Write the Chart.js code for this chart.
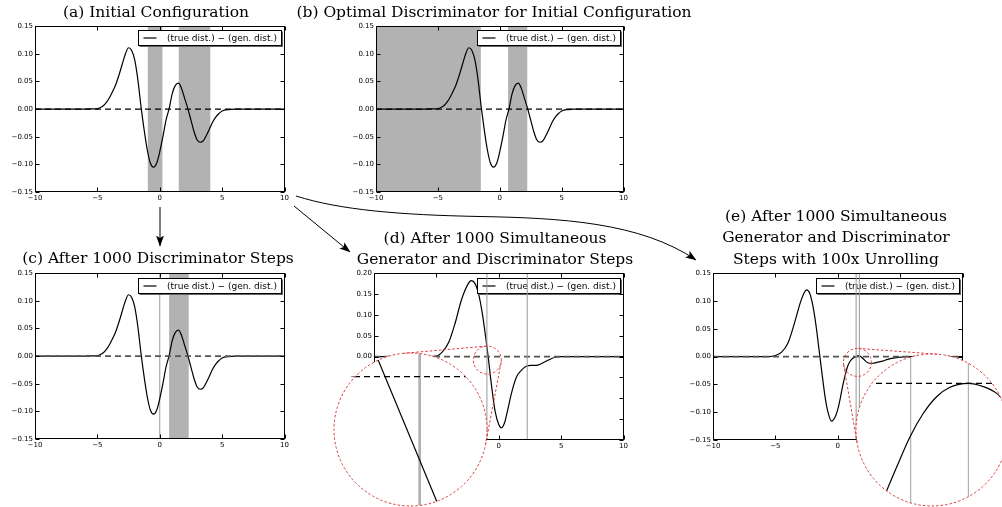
<!DOCTYPE html>
<html>
<head>
<meta charset="utf-8">
<title>Unrolled GAN toy example</title>
<script src="https://cdn.jsdelivr.net/npm/chart.js@4.4.1/dist/chart.umd.min.js"></script>
<style>
  html, body { margin: 0; padding: 0; background: #fff; }
  #fig { position: relative; width: 1002px; height: 507px; overflow: hidden; background: #fff; }
  #fig canvas { position: absolute; }
  #fig canvas.inset { background: #fff; clip-path: circle(50% at 50% 50%); }
  #over { position: absolute; left: 0; top: 0; }
  .ttl { font-family: "DejaVu Serif"; font-size: 15.5px; fill: #000; text-anchor: middle; }
  .ring { fill: none; stroke: #dd3b3b; stroke-width: 1; stroke-dasharray: 2.5 2; }
</style>
</head>
<body>
<div id="fig">
  <canvas id="pa"></canvas>
  <canvas id="pb"></canvas>
  <canvas id="pc"></canvas>
  <canvas id="pd"></canvas>
  <canvas id="pe"></canvas>
  <canvas id="id" class="inset"></canvas>
  <canvas id="ie" class="inset"></canvas>
  <svg id="over" width="1002" height="507">
    <defs>
      <marker id="head" markerWidth="11" markerHeight="8" refX="10.5" refY="4" orient="auto" markerUnits="userSpaceOnUse">
        <path d="M0,0 L11,4 L0,8 L2.5,4 Z" fill="#000"/>
      </marker>
    </defs>
    <text class="ttl" x="156" y="17">(a) Initial Configuration</text>
    <text class="ttl" x="494" y="17">(b) Optimal Discriminator for Initial Configuration</text>
    <text class="ttl" x="158" y="263">(c) After 1000 Discriminator Steps</text>
    <text class="ttl" x="495" y="243">(d) After 1000 Simultaneous</text>
    <text class="ttl" x="495" y="263.5">Generator and Discriminator Steps</text>
    <text class="ttl" x="836" y="221">(e) After 1000 Simultaneous</text>
    <text class="ttl" x="836" y="242">Generator and Discriminator</text>
    <text class="ttl" x="836" y="263.5">Steps with 100x Unrolling</text>
    <path d="M160,207 L160,246" stroke="#000" stroke-width="1" fill="none" marker-end="url(#head)"/>
    <path d="M294,206 L350,252" stroke="#000" stroke-width="1" fill="none" marker-end="url(#head)"/>
    <path d="M296,196 C340,210 400,215 480,216.5 S640,222 696,260" stroke="#000" stroke-width="1" fill="none" marker-end="url(#head)"/>
    <g id="rings"></g>
  </svg>
</div>
<script>
// difference curve shared by (a), (b), (c)
var curveX = [-10, -6, -5.5, -5, -4.75, -4.5, -4.25, -4, -3.75, -3.5, -3.25, -3, -2.75, -2.5, -2.25, -2, -1.75, -1.5, -1.25, -1, -0.75, -0.5, -0.25, 0, 0.25, 0.5, 0.75, 1, 1.25, 1.5, 1.75, 2, 2.25, 2.5, 2.75, 3, 3.25, 3.5, 3.75, 4, 4.25, 4.5, 4.75, 5, 5.5, 6, 10];
var curveY = [0, 0, 0.0005, 0.001, 0.003, 0.0066, 0.013, 0.022, 0.033, 0.046, 0.063, 0.082, 0.100, 0.111, 0.106, 0.088, 0.052, 0.004, -0.038, -0.074, -0.098, -0.105, -0.098, -0.077, -0.050, -0.020, 0.001, 0.028, 0.043, 0.047, 0.037, 0.019, 0.001, -0.020, -0.041, -0.056, -0.060, -0.057, -0.047, -0.035, -0.023, -0.014, -0.008, -0.0035, -0.0008, 0, 0];

// (d) simultaneous steps
var dX = [-10, -5.5, -5, -4.5, -4, -3.5, -3, -2.5, -2.2, -1.9, -1.6, -1.3, -1, -0.85, -0.6, -0.3, 0, 0.2, 0.45, 0.7, 1, 1.4, 1.8, 2.2, 2.6, 3, 3.4, 3.8, 4.2, 4.6, 5, 10];
var dY = [0, 0, 0.001, 0.012, 0.035, 0.08, 0.135, 0.172, 0.182, 0.175, 0.148, 0.10, 0.035, 0, -0.065, -0.13, -0.163, -0.171, -0.16, -0.13, -0.09, -0.05, -0.033, -0.023, -0.021, -0.021, -0.017, -0.011, -0.005, -0.001, 0, 0];

// (e) with unrolling
var eX = [-10, -5.5, -5, -4.5, -4, -3.5, -3, -2.75, -2.5, -2.25, -2, -1.75, -1.5, -1.25, -1, -0.75, -0.5, -0.2, 0, 0.2, 0.4, 0.6, 0.8, 1, 1.2, 1.45, 1.7, 2, 2.4, 2.8, 3.2, 3.6, 4, 4.7, 5.5, 10];
var eY = [0, 0, 0.002, 0.008, 0.024, 0.058, 0.097, 0.112, 0.12, 0.114, 0.092, 0.057, 0.012, -0.033, -0.075, -0.103, -0.116, -0.108, -0.095, -0.075, -0.052, -0.033, -0.017, -0.008, -0.003, 0, 0.002, -0.003, -0.011, -0.012, -0.010, -0.008, -0.005, -0.002, 0, 0];

// zoomed insets
var idX = [-1.10, -0.88];
var idY = [0.0115, -0.0575];
var ieX = [1.345, 1.364, 1.407, 1.467, 1.527, 1.587, 1.647, 1.73, 1.798, 1.858, 1.881, 1.92];
var ieY = [-0.0076, -0.00697, -0.00549, -0.00351, -0.00197, -0.00088, -0.00026, 0, -0.00022, -0.00066, -0.00099, -0.0016];

var zeroX = [-10, 10];
var zeroY = [0, 0];

// discriminator regions / lines
var bandsA = [[-0.96, 0.21], [1.52, 4.05]];
var bandsB = [[-10, -1.53], [0.67, 2.22]];
var bandsC = [[0.75, 2.32]];
var linesC = [0];
var linesD = [-0.95, 2.28];
var linesE = [1.47, 1.73];

var legendText = '(true dist.) \u2212 (gen. dist.)';

var L = 45, T = 6, R = 6, B = 16;

var cfg = {
  pa: {box: [35, 26, 285, 192], yMin: -0.15, yMax: 0.15, xs: curveX, ys: curveY, bands: bandsA, lines: [], overDash: false, legTop: 3.5},
  pb: {box: [376, 26, 624, 192], yMin: -0.15, yMax: 0.15, xs: curveX, ys: curveY, bands: bandsB, lines: [], overDash: false, legTop: 3.5},
  pc: {box: [35, 273, 285, 439], yMin: -0.15, yMax: 0.15, xs: curveX, ys: curveY, bands: bandsC, lines: linesC, overDash: true, legTop: 5},
  pd: {box: [374, 273, 624, 440], yMin: -0.2, yMax: 0.2, xs: dX, ys: dY, bands: [], lines: linesD, overDash: true, linesOnTop: true, legTop: 5},
  pe: {box: [713, 273, 963, 440], yMin: -0.15, yMax: 0.15, xs: eX, ys: eY, bands: [], lines: linesE, overDash: true, linesOnTop: true, legTop: 5}
};

var zooms = {
  id: {panel: 'pd', x: -0.92, y: -0.0084, r: 14, big: {x: 410.5, y: 429.5, r: 76.5},
       xMin: -1.23, xMax: -0.73, yMin: -0.055, yMax: 0.01, xs: idX, ys: idY,
       lines: [-0.95], lineWidth: 2.7, lineColor: '#b0b0b0'},
  ie: {panel: 'pe', x: 1.576, y: -0.0104, r: 14, big: {x: 932, y: 430, r: 76},
       xMin: 1.223, xMax: 1.909, yMin: -0.00807, yMax: 0.00193, xs: ieX, ys: ieY,
       lines: [1.47, 1.73], lineWidth: 1, lineColor: '#a0a0a0'}
};

function pts(xs, ys) { return xs.map(function (x, i) { return {x: x, y: ys[i]}; }); }
function fmtY(v) { return (Math.abs(v) < 1e-9 ? 0 : v).toFixed(2).replace('-', '\u2212'); }
function fmtX(v) { return String(v).replace('-', '\u2212'); }

function drawLines(chart, o) {
  var ca = chart.chartArea, ctx = chart.ctx, xs = chart.scales.x;
  ctx.save();
  ctx.strokeStyle = o.lineColor || '#999';
  ctx.lineWidth = o.lineWidth || 1;
  o.lines.forEach(function (v) {
    var x = xs.getPixelForValue(v);
    ctx.beginPath(); ctx.moveTo(x, ca.top); ctx.lineTo(x, ca.bottom); ctx.stroke();
  });
  ctx.restore();
}

Chart.register({
  id: 'marks',
  beforeDatasetsDraw: function (chart) {
    var o = cfg[chart.canvas.id] || zooms[chart.canvas.id];
    var ca = chart.chartArea, ctx = chart.ctx, xs = chart.scales.x;
    ctx.save();
    ctx.beginPath(); ctx.rect(ca.left, ca.top, ca.right - ca.left, ca.bottom - ca.top); ctx.clip();
    ctx.fillStyle = '#b2b2b2';
    (o.bands || []).forEach(function (b) {
      var x0 = xs.getPixelForValue(b[0]), x1 = xs.getPixelForValue(b[1]);
      ctx.fillRect(x0, ca.top, x1 - x0, ca.bottom - ca.top);
    });
    if (!o.linesOnTop) drawLines(chart, o);
    ctx.restore();
  },
  afterDraw: function (chart) {
    var o = cfg[chart.canvas.id];
    if (!o) return;
    var ca = chart.chartArea, ctx = chart.ctx;
    // legend
    var lw = 143, lh = 15;
    var bx = Math.round(ca.right - 3.5 - lw) + 0.5, by = Math.round(ca.top + o.legTop) + 0.5;
    ctx.save();
    ctx.fillStyle = '#666'; ctx.fillRect(bx + 1, by + 1, lw + 0.5, lh + 0.5);
    ctx.fillStyle = '#fff'; ctx.fillRect(bx, by, lw, lh);
    ctx.strokeStyle = '#000'; ctx.lineWidth = 1; ctx.strokeRect(bx, by, lw, lh);
    ctx.beginPath(); ctx.moveTo(bx + 5, by + lh / 2); ctx.lineTo(bx + 18, by + lh / 2);
    ctx.lineWidth = 1.2; ctx.stroke();
    ctx.fillStyle = '#000'; ctx.font = '9px "DejaVu Sans"'; ctx.textBaseline = 'middle';
    ctx.fillText(legendText, bx + 28.5, by + lh / 2 + 0.5);
    ctx.restore();
    if (o.linesOnTop) drawLines(chart, o);
    // frame and inward ticks
    ctx.save();
    ctx.strokeStyle = '#000'; ctx.lineWidth = 1;
    var l = Math.round(ca.left) + 0.5, r = Math.round(ca.right) - 0.5, t = Math.round(ca.top) + 0.5, b = Math.round(ca.bottom) - 0.5;
    ctx.strokeRect(l, t, r - l, b - t);
    ctx.beginPath();
    chart.scales.x.ticks.forEach(function (tk) {
      var x = Math.round(chart.scales.x.getPixelForValue(tk.value)) + 0.5;
      ctx.moveTo(x, b); ctx.lineTo(x, b - 4);
      ctx.moveTo(x, t); ctx.lineTo(x, t + 4);
    });
    chart.scales.y.ticks.forEach(function (tk) {
      var y = Math.round(chart.scales.y.getPixelForValue(tk.value)) + 0.5;
      ctx.moveTo(l, y); ctx.lineTo(l + 4, y);
      ctx.moveTo(r, y); ctx.lineTo(r - 4, y);
    });
    ctx.stroke();
    ctx.restore();
  }
});

var tickFont = {family: '"DejaVu Sans"', size: 7};

function makePanel(id) {
  var p = cfg[id], b = p.box, cv = document.getElementById(id);
  cv.width = b[2] - b[0] + L + R;
  cv.height = b[3] - b[1] + T + B;
  p.offX = b[0] - L; p.offY = b[1] - T;
  cv.style.left = p.offX + 'px'; cv.style.top = p.offY + 'px';
  var zero = {data: pts(zeroX, zeroY), borderColor: p.overDash ? '#555' : '#000', borderWidth: p.overDash ? 1.6 : 1.1,
              borderDash: [6, 4], pointRadius: 0, order: p.overDash ? 1 : 2};
  var curve = {data: pts(p.xs, p.ys), borderColor: '#000', borderWidth: 1.2, pointRadius: 0,
               cubicInterpolationMode: 'monotone', order: p.overDash ? 2 : 1};
  p.chart = new Chart(cv, {
    type: 'line',
    data: {datasets: [curve, zero]},
    options: {
      responsive: false, animation: false, events: [],
      layout: {padding: {left: 0, top: T, right: R, bottom: 0}},
      plugins: {legend: {display: false}, tooltip: {enabled: false}},
      scales: {
        x: {type: 'linear', min: -10, max: 10,
            grid: {display: false, drawTicks: false}, border: {display: false},
            ticks: {stepSize: 5, autoSkip: false, maxRotation: 0, padding: 2, color: '#000', font: tickFont, callback: fmtX},
            afterFit: function (s) { s.height = B; }},
        y: {type: 'linear', min: p.yMin, max: p.yMax,
            grid: {display: false, drawTicks: false}, border: {display: false},
            ticks: {stepSize: 0.05, autoSkip: false, padding: 2, color: '#000', font: tickFont, callback: fmtY},
            afterFit: function (s) { s.width = L; }}
      }
    }
  });
}

function makeInset(id) {
  var q = zooms[id], cv = document.getElementById(id), s = Math.round(q.big.r * 2);
  cv.width = s; cv.height = s;
  cv.style.left = (q.big.x - q.big.r) + 'px'; cv.style.top = (q.big.y - q.big.r) + 'px';
  new Chart(cv, {
    type: 'line',
    data: {datasets: [
      {data: pts(q.xs, q.ys), borderColor: '#000', borderWidth: 1.2, pointRadius: 0, cubicInterpolationMode: 'monotone', order: 1},
      {data: pts([q.xMin, q.xMax], [0, 0]), borderColor: '#000', borderWidth: 1.2, borderDash: [6, 4], pointRadius: 0, order: 2}
    ]},
    options: {
      responsive: false, animation: false, events: [],
      layout: {padding: 0},
      plugins: {legend: {display: false}, tooltip: {enabled: false}},
      scales: {
        x: {type: 'linear', display: false, min: q.xMin, max: q.xMax},
        y: {type: 'linear', display: false, min: q.yMin, max: q.yMax}
      }
    }
  });
}

['pa', 'pb', 'pc', 'pd', 'pe'].forEach(makePanel);
['id', 'ie'].forEach(makeInset);

// dotted zoom rings and their tangent connectors
var NS = 'http://www.w3.org/2000/svg', rings = document.getElementById('rings');
function svgEl(tag, attrs) {
  var e = document.createElementNS(NS, tag);
  for (var k in attrs) e.setAttribute(k, attrs[k]);
  e.setAttribute('class', 'ring');
  rings.appendChild(e);
}
Object.keys(zooms).forEach(function (k) {
  var q = zooms[k], p = cfg[q.panel];
  var c1 = {x: p.offX + p.chart.scales.x.getPixelForValue(q.x), y: p.offY + p.chart.scales.y.getPixelForValue(q.y), r: q.r};
  var c2 = q.big;
  svgEl('circle', {cx: c1.x, cy: c1.y, r: c1.r});
  svgEl('circle', {cx: c2.x, cy: c2.y, r: c2.r});
  var dx = c2.x - c1.x, dy = c2.y - c1.y, len = Math.hypot(dx, dy);
  var phi = Math.atan2(dy, dx), a = Math.acos((c2.r - c1.r) / len);
  [phi + a, phi - a].forEach(function (th) {
    var nx = Math.cos(th), ny = Math.sin(th);
    svgEl('line', {x1: c1.x - c1.r * nx, y1: c1.y - c1.r * ny, x2: c2.x - c2.r * nx, y2: c2.y - c2.r * ny});
  });
});
</script>
</body>
</html>
